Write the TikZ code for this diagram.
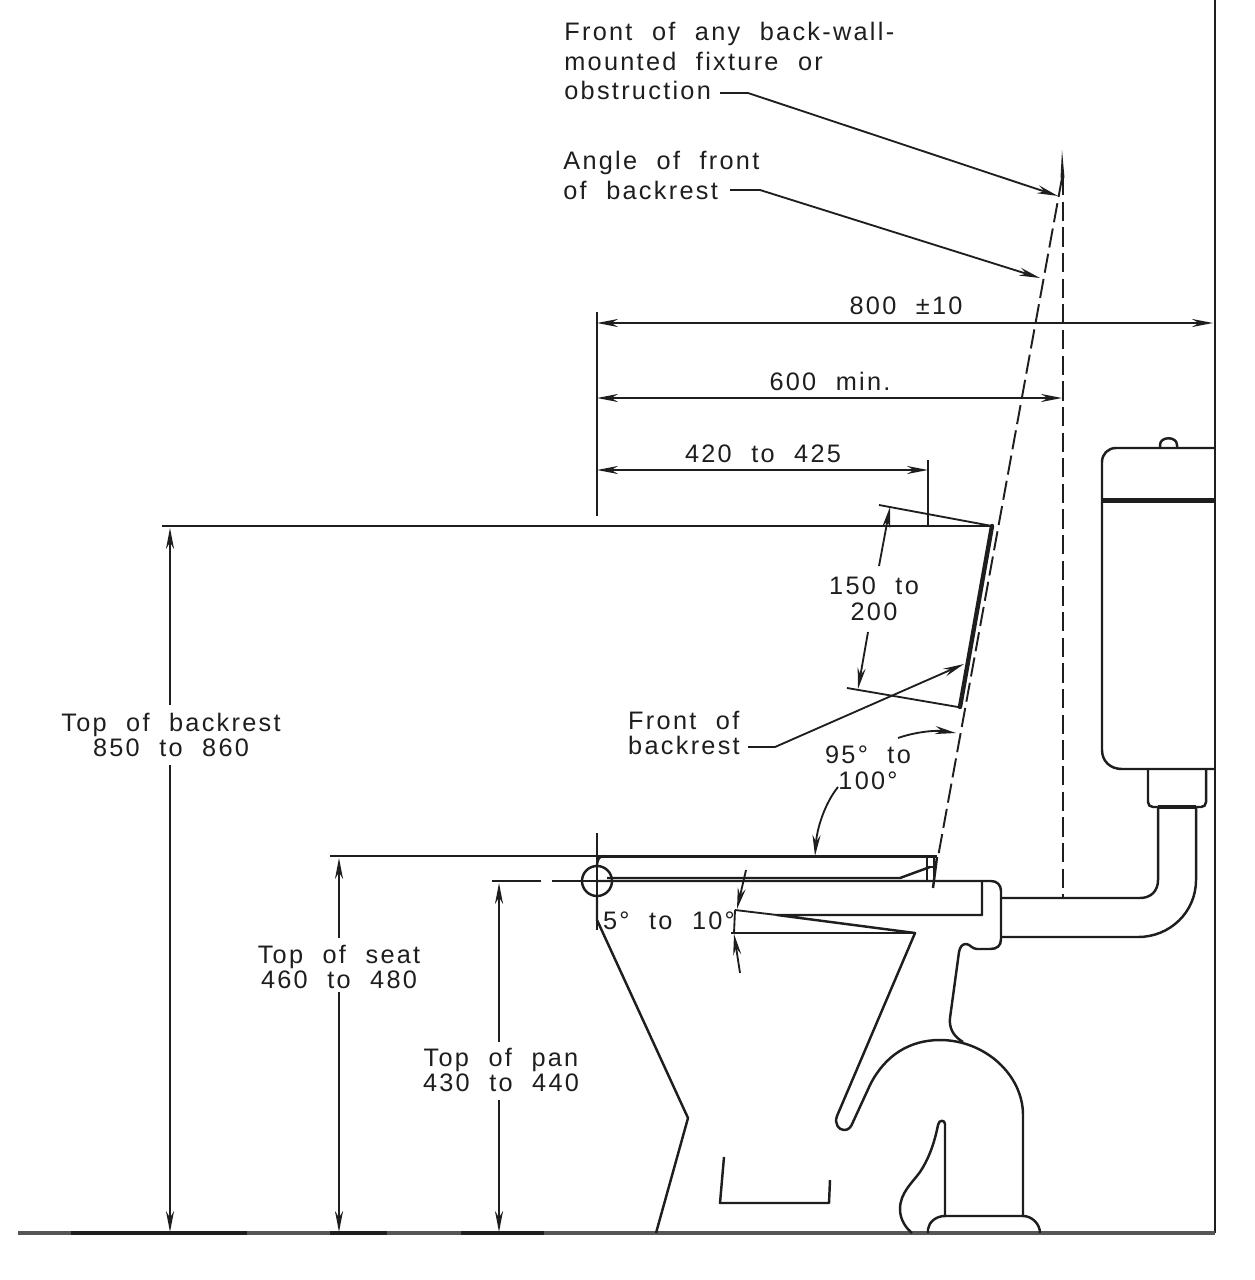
\documentclass[tikz,border=0pt]{standalone}
\usepackage{fontspec}
\setmainfont[LetterSpace=9,WordSpace=2.1]{Liberation Sans}
\usetikzlibrary{arrows.meta}
\definecolor{ink}{HTML}{1E1E1E}
\tikzset{
  thinln/.style={draw=ink,line width=1.05pt},
  objln/.style={draw=ink,line width=1.4pt,line join=round},
  heavyln/.style={draw=ink,line width=2.5pt},
  dimtip/.style={-{Stealth[length=12pt,width=4.6pt]}},
  dimboth/.style={{Stealth[length=12pt,width=4.6pt]}-{Stealth[length=12pt,width=4.6pt]}},
  dashln/.style={draw=ink,line width=1.1pt,dash pattern=on 11pt off 3.6pt},
  lbl/.style={inner sep=0pt,align=center,font=\fontsize{14.4}{14.6}\selectfont,text=ink},
  lblL/.style={inner sep=0pt,align=left,font=\fontsize{14.4}{16.7}\selectfont,text=ink}
}
\begin{document}
\begin{tikzpicture}[x=0.02cm,y=-0.02cm]
\useasboundingbox (0,0) rectangle (1254,1280);
% labels
\node[lblL,anchor=north west] (fixture) at (564,22) {Front of any back-wall-\\mounted fixture or\\obstruction};
\node[lblL,anchor=north west] (angle) at (563,151) {Angle of front\\of backrest};
\node[lbl] (d800) at (906,306) {800 ±10};
\node[lbl] (d600) at (830,381) {600 min.};
\node[lbl] (d420) at (763,454) {420 to 425};
\node[lbl] (d150) at (874,599) {150 to\\200};
\node[lbl,align=left] (front) at (684,733) {Front of\\backrest};
\node[lbl] (d95) at (868,768) {95° to\\100°};
\node[lbl] (back) at (171,735) {Top of backrest\\850 to 860};
\node[lbl] (seat) at (339,967) {Top of seat\\460 to 480};
\node[lbl] (pan) at (501,1070) {Top of pan\\430 to 440};
\node[lbl] (ang5) at (669,921) {5° to 10°};
% named points
\coordinate (wallT) at (1215,0); \coordinate (wallB) at (1215,1233);
\coordinate (floorL) at (18,1233);
\coordinate (datumT) at (597,312); \coordinate (datumB) at (597,516);
\coordinate (tipA) at (1058,196); \coordinate (tipB) at (1040,278); \coordinate (tipC) at (964,664);
% wall + floor
\draw[objln,line width=1.6pt] (wallT) -- (wallB);
\draw[draw=ink!75,line width=1.8pt] (floorL) -- (wallB);
\foreach \a/\b in {71/247,330/387,461/544}{\draw[draw=ink,line width=2.1pt] (\a,1233) -- (\b,1233);}
% extension lines
\draw[thinln] (datumT) -- (datumB);
\draw[thinln] (928,460) -- (928,526);
\draw[thinln] (162,526) -- (992,526);
\draw[thinln] (879,505) -- (992,526);
\draw[thinln] (847,688) -- (958,707);
\draw[thinln] (330,856) -- (597,856);
\draw[thinln] (492,881) -- (541,881);
\draw[thinln] (552,881) -- (600,881);
\draw[thinln] (597,833) -- (597,930);
% horizontal dims
\draw[thinln,dimboth] (datumT |- 0,323) -- (1213,323);
\draw[thinln,dimboth] (datumT |- 0,398) -- (1062,398);
\draw[thinln,dimboth] (datumT |- 0,470) -- (928,470);
% vertical dims
\draw[thinln,dimtip] (170,705) -- (170,528);
\draw[thinln,dimtip] (170,765) -- (170,1232);
\draw[thinln,dimtip] (339,938) -- (339,858);
\draw[thinln,dimtip] (339,992) -- (339,1232);
\draw[thinln,dimtip] (499,1042) -- (499,883);
\draw[thinln,dimtip] (499,1100) -- (499,1232);
% backrest dims
\draw[thinln,dimtip] (879,566) -- (890,507);
\draw[thinln,dimtip] (868,632) -- (858,689);
% dashed lines
\draw[dashln] (1062,178) -- (938,857);
\draw[dashln] (1063,176) -- (1063,898);
\fill[ink] (1062,150) -- (1064.5,178) -- (1060.5,178) -- cycle;
% backrest
\draw[heavyln,line cap=round] (992,526) -- (960,707);
% leaders
\draw[thinln,dimtip] (720,93) -- (748,93) -- (tipA);
\draw[thinln,dimtip] (730,190) -- (760,190) -- (tipB);
\draw[thinln,dimtip] (748,747) -- (775,747) -- (tipC);
% angle arcs
\draw[thinln,dimtip] (898,738) .. controls (915,732) and (935,730) .. (956,733);
\draw[thinln,dimtip] (838,787) .. controls (825,803) and (817,828) .. (815,856);
% seat
\draw[objln,line width=1.7pt] (597,856) -- (937,856);
\draw[objln] (597,866) .. controls (597,860) and (599,856) .. (604,856);
\draw[objln] (607,878) -- (900,878) -- (930,867);
\draw[objln] (927,856) -- (927,882);
\draw[objln] (934,856) -- (934,882);
\draw[objln] (937,857) -- (933,888);
\draw[objln] (927,867) -- (934,867);
% hinge
\draw[objln] (597,881) circle (15);
% pan
\draw[objln] (597,881) -- (991,881) .. controls (997,881) and (1001,885) .. (1001,891) -- (1001,939)
  .. controls (1001,946) and (997,949) .. (990,949) -- (977,949)
  .. controls (972,949) and (970,944) .. (966,944) .. controls (962,944) and (960,947) .. (959,952)
  -- (950,1018) .. controls (949,1028) and (953,1036) .. (963,1042);
\draw[objln] (982,881) -- (982,915) -- (777,915) -- (915,933) -- (837,1116)
  .. controls (834,1124) and (839,1130) .. (844,1130) .. controls (849,1130) and (851,1127) .. (853,1122)
  -- (870,1085) .. controls (885,1055) and (910,1040) .. (940,1040)
  .. controls (985,1040) and (1023,1075) .. (1023,1115) -- (1023,1216);
\draw[thinln] (735,910) -- (777,915);
\draw[objln] (731,933) -- (915,933);
\draw[objln] (597,895) -- (597,920) -- (688,1118) -- (656,1233);
\draw[objln] (724,1157) -- (720,1203) -- (829,1203) -- (830,1180);
% angle dims
\draw[thinln] (735,910) -- (734,933);
\draw[thinln,dimtip] (746,870) -- (737,909);
\draw[thinln,dimtip] (740,973) -- (734,934);
% trap foot
\draw[objln] (928,1233) -- (928,1229) .. controls (929,1222) and (936,1216) .. (945,1216) -- (1023,1216)
  .. controls (1032,1216) and (1040,1224) .. (1040,1233);
\draw[objln] (945,1216) -- (945,1124) .. controls (945,1120) and (939,1119) .. (938,1125)
  .. controls (934,1145) and (928,1160) .. (920,1172) .. controls (912,1183) and (900,1193) .. (900,1209)
  .. controls (900,1220) and (906,1228) .. (912,1233);
% cistern
\draw[objln] (1215,448) -- (1116,448) .. controls (1108,448) and (1102,454) .. (1102,462) -- (1102,750)
  .. controls (1102,761) and (1110,769) .. (1122,769) -- (1215,769);
\draw[objln] (1160,448) -- (1160,445) .. controls (1160,436) and (1177,436) .. (1177,445) -- (1177,448);
\draw[draw=ink,line width=2.6pt] (1102,500.5) -- (1215,500.5);
% outlet
\draw[objln] (1148,769) -- (1148,802) .. controls (1148,805) and (1150,807) .. (1153,807) -- (1201,807)
  .. controls (1204,807) and (1206,805) .. (1206,802) -- (1206,769);
\draw[objln,line width=1.9pt] (1158,807) -- (1196,807);
% pipe
\draw[objln] (1001,898) -- (1140,898) .. controls (1151,898) and (1158,891) .. (1158,880) -- (1158,807);
\draw[objln] (1001,937) -- (1138,937) .. controls (1170,937) and (1196,912) .. (1196,880) -- (1196,807);
\end{tikzpicture}
\end{document}
